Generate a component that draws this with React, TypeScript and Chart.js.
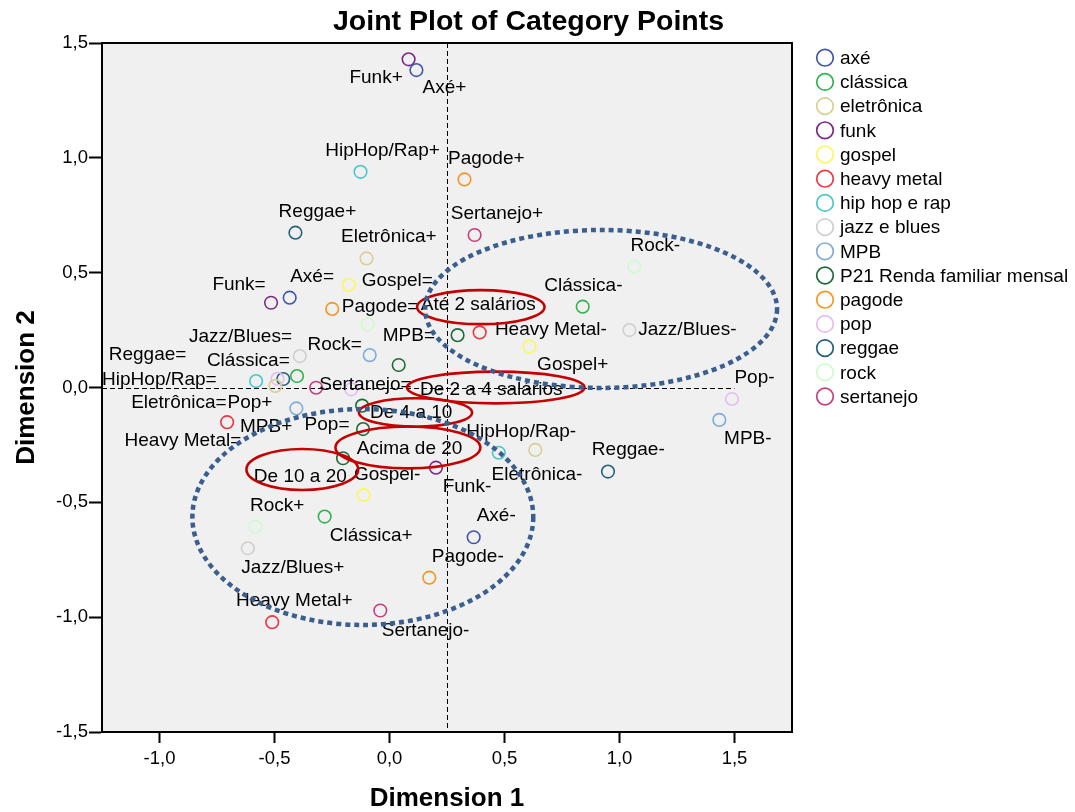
import React, { useEffect, useRef } from 'react';
import { Chart, registerables } from 'chart.js';

Chart.register(...registerables);

const FONT = '"Liberation Sans", Arial, Helvetica, sans-serif';

// ---- Axis setup ----
const xMin = -1.25;
const xMax = 1.75;
const yMin = -1.5;
const yMax = 1.5;
const xTicks = [-1.0, -0.5, 0.0, 0.5, 1.0, 1.5];
const yTicks = [-1.5, -1.0, -0.5, 0.0, 0.5, 1.0, 1.5];

// ---- Series (legend order) ----
const seriesNames = [
  'axé', 'clássica', 'eletrônica', 'funk', 'gospel', 'heavy metal', 'hip hop e rap',
  'jazz e blues', 'MPB', 'P21 Renda familiar mensal', 'pagode', 'pop', 'reggae', 'rock', 'sertanejo',
];
const seriesColors = [
  '#3f55ad', '#2eb34d', '#d8cf93', '#7b2b85', '#fbf75c', '#e9383f', '#46c8cb',
  '#cfcfcf', '#7eaddd', '#1d6a3a', '#f7951f', '#e4bdf2', '#22607c', '#ccfcce', '#c43f7b',
];

// ---- Category point coordinates (Dimension 1 / Dimension 2) ----
const axeX = [0.117, -0.434, 0.366];
const axeY = [1.382, 0.391, -0.652];
const axeText = ['Axé+', 'Axé=', 'Axé-'];

const classicaX = [0.840, -0.402, -0.282];
const classicaY = [0.352, 0.050, -0.562];
const classicaText = ['Clássica-', 'Clássica=', 'Clássica+'];

const eletronicaX = [-0.100, -0.496, 0.634];
const eletronicaY = [0.562, 0.007, -0.272];
const eletronicaText = ['Eletrônica+', 'Eletrônica=', 'Eletrônica-'];

const funkX = [0.083, -0.515, 0.202];
const funkY = [1.429, 0.369, -0.349];
const funkText = ['Funk+', 'Funk=', 'Funk-'];

const gospelX = [-0.177, 0.609, -0.112];
const gospelY = [0.446, 0.178, -0.468];
const gospelText = ['Gospel=', 'Gospel+', 'Gospel-'];

const metalX = [0.392, -0.706, -0.510];
const metalY = [0.240, -0.151, -1.022];
const metalText = ['Heavy Metal-', 'Heavy Metal=', 'Heavy Metal+'];

const hiphopX = [-0.126, -0.580, 0.475];
const hiphopY = [0.939, 0.028, -0.284];
const hiphopText = ['HipHop/Rap+', 'HipHop/Rap=', 'HipHop/Rap-'];

const jazzX = [-0.390, 1.043, -0.616];
const jazzY = [0.137, 0.250, -0.700];
const jazzText = ['Jazz/Blues=', 'Jazz/Blues-', 'Jazz/Blues+'];

const mpbX = [-0.086, -0.405, 1.434];
const mpbY = [0.141, -0.091, -0.141];
const mpbText = ['MPB=', 'MPB+', 'MPB-'];

const rendaX = [0.296, 0.040, -0.119, -0.202, -0.115];
const rendaY = [0.228, 0.098, -0.079, -0.308, -0.181];
const rendaText = ['Até 2 salários', 'De 2 a 4 salários', 'De 4 a 10', 'De 10 a 20', 'Acima de 20'];

const pagodeX = [0.326, -0.249, 0.173];
const pagodeY = [0.906, 0.342, -0.828];
const pagodeText = ['Pagode+', 'Pagode=', 'Pagode-'];

const popX = [-0.487, -0.166, 1.489];
const popY = [0.038, -0.008, -0.050];
const popText = ['Pop+', 'Pop=', 'Pop-'];

const reggaeX = [-0.409, -0.462, 0.950];
const reggaeY = [0.674, 0.037, -0.366];
const reggaeText = ['Reggae+', 'Reggae=', 'Reggae-'];

const rockX = [-0.095, 1.064, -0.583];
const rockY = [0.275, 0.526, -0.606];
const rockText = ['Rock=', 'Rock-', 'Rock+'];

const sertanejoX = [0.370, -0.319, -0.040];
const sertanejoY = [0.664, -0.001, -0.971];
const sertanejoText = ['Sertanejo+', 'Sertanejo=', 'Sertanejo-'];

const seriesX = [axeX, classicaX, eletronicaX, funkX, gospelX, metalX, hiphopX, jazzX, mpbX, rendaX, pagodeX, popX, reggaeX, rockX, sertanejoX];
const seriesY = [axeY, classicaY, eletronicaY, funkY, gospelY, metalY, hiphopY, jazzY, mpbY, rendaY, pagodeY, popY, reggaeY, rockY, sertanejoY];
const seriesText = [axeText, classicaText, eletronicaText, funkText, gospelText, metalText, hiphopText, jazzText, mpbText, rendaText, pagodeText, popText, reggaeText, rockText, sertanejoText];

// ---- Label placement (pixel offset of text centre from its point) ----
const labelOffsets = [
  [[28, 18], [22.4, -21], [22.5, -21.3]],
  [[0.7, -20.7], [-48.7, -15], [46.5, 19.3]],
  [[22.3, -21.3], [-96.5, 17.3], [1.7, 25]],
  [[-32.5, 18.5], [-32, -17.7], [31, 19]],
  [[48.5, -4], [43.2, 18.3], [23.4, -20]],
  [[71.2, -2.3], [-44.2, 18.4], [22.1, -21.6]],
  [[22, -20.7], [-96.7, -1], [22.5, -21]],
  [[-59.3, -19.3], [58, 0], [45, 19]],
  [[39.2, -19.7], [-30.2, 18.4], [28.5, 19]],
  [[20.7, -30], [92.5, 25], [49.1, 7.6], [-42.7, 18.4], [46.5, 19.3]],
  [[21.8, -21], [47.8, -2], [38.5, -20.4]],
  [[-27.5, 24.3], [-24.3, 35.7], [22.5, -21.3]],
  [[22, -20.7], [-135.7, -24], [20.3, -21.7]],
  [[-33, 20], [21, -20.7], [21.7, -20.7]],
  [[22.4, -21.7], [49.3, -3.4], [45.3, 20]],
];

// ---- Highlight ellipses (data units) ----
const redCx = [0.397, 0.462, 0.113, 0.080, -0.379];
const redCy = [0.350, 0.000, -0.109, -0.261, -0.357];
const redRx = [0.277, 0.386, 0.246, 0.315, 0.243];
const redRy = [0.074, 0.069, 0.062, 0.091, 0.089];

const blueCx = [0.920, -0.116];
const blueCy = [0.342, -0.564];
const blueRx = [0.765, 0.741];
const blueRy = [0.344, 0.470];

// reference lines
const refX = 0.25;
const refY = 0.0;
const refYLineEnd = 1.5;

const fmt = (v: number) => v.toFixed(1).replace('.', ',');

const decorPlugin = {
  id: 'decor',
  beforeDraw(chart: any) {
    const { ctx, chartArea: a } = chart;
    ctx.save();
    ctx.fillStyle = '#f0f0f0';
    ctx.fillRect(a.left, a.top, a.right - a.left, a.bottom - a.top);
    ctx.restore();
  },
  beforeDatasetsDraw(chart: any) {
    const { ctx, chartArea: a, scales } = chart;
    const xs = scales.x;
    const ys = scales.y;
    ctx.save();
    ctx.strokeStyle = '#000';
    ctx.lineWidth = 1;
    ctx.setLineDash([5, 3]);
    const px = Math.round(xs.getPixelForValue(refX)) + 0.5;
    ctx.beginPath();
    ctx.moveTo(px, a.top);
    ctx.lineTo(px, a.bottom);
    ctx.stroke();
    const py = Math.round(ys.getPixelForValue(refY)) + 0.5;
    ctx.beginPath();
    ctx.moveTo(a.left, py);
    ctx.lineTo(xs.getPixelForValue(refYLineEnd), py);
    ctx.stroke();
    ctx.restore();
  },
  afterDatasetsDraw(chart: any) {
    const { ctx, chartArea: a, scales } = chart;
    const xs = scales.x;
    const ys = scales.y;
    ctx.save();
    // point labels
    ctx.fillStyle = '#000';
    ctx.font = `19px ${FONT}`;
    ctx.textAlign = 'center';
    ctx.textBaseline = 'middle';
    chart.data.datasets.forEach((_ds: any, i: number) => {
      const meta = chart.getDatasetMeta(i);
      meta.data.forEach((el: any, j: number) => {
        const off = labelOffsets[i][j];
        ctx.fillText(seriesText[i][j], el.x + off[0], el.y + off[1]);
      });
    });
    // red ellipses
    ctx.strokeStyle = '#c40000';
    ctx.lineWidth = 2.6;
    ctx.setLineDash([]);
    for (let k = 0; k < redCx.length; k++) {
      const cx = xs.getPixelForValue(redCx[k]);
      const cy = ys.getPixelForValue(redCy[k]);
      const rx = Math.abs(xs.getPixelForValue(redCx[k] + redRx[k]) - cx);
      const ry = Math.abs(ys.getPixelForValue(redCy[k] + redRy[k]) - cy);
      ctx.beginPath();
      ctx.ellipse(cx, cy, rx, ry, 0, 0, Math.PI * 2);
      ctx.stroke();
    }
    // blue dotted ellipses
    ctx.strokeStyle = '#3a5e8d';
    ctx.lineWidth = 4.5;
    ctx.setLineDash([5, 4]);
    for (let k = 0; k < blueCx.length; k++) {
      const cx = xs.getPixelForValue(blueCx[k]);
      const cy = ys.getPixelForValue(blueCy[k]);
      const rx = Math.abs(xs.getPixelForValue(blueCx[k] + blueRx[k]) - cx);
      const ry = Math.abs(ys.getPixelForValue(blueCy[k] + blueRy[k]) - cy);
      ctx.beginPath();
      ctx.ellipse(cx, cy, rx, ry, 0, 0, Math.PI * 2);
      ctx.stroke();
    }
    // frame
    ctx.setLineDash([]);
    ctx.strokeStyle = '#000';
    ctx.lineWidth = 2;
    ctx.strokeRect(a.left, a.top, a.right - a.left, a.bottom - a.top);
    ctx.restore();
  },
  afterDraw(chart: any) {
    const { ctx } = chart;
    ctx.save();
    // title
    ctx.fillStyle = '#000';
    ctx.font = `bold 28.5px ${FONT}`;
    ctx.textAlign = 'center';
    ctx.textBaseline = 'middle';
    ctx.fillText('Joint Plot of Category Points', 528.5, 22);
    // legend
    ctx.font = `19px ${FONT}`;
    ctx.textAlign = 'left';
    chart.data.datasets.forEach((ds: any, i: number) => {
      const y = 57.7 + i * 24.2;
      ctx.beginPath();
      ctx.arc(825, y, 8.3, 0, Math.PI * 2);
      ctx.strokeStyle = ds.borderColor;
      ctx.lineWidth = 1.7;
      ctx.stroke();
      ctx.fillStyle = '#000';
      ctx.fillText(ds.label, 840, y + 1);
    });
    ctx.restore();
  },
};

export default function App() {
  const canvasRef = useRef<HTMLCanvasElement | null>(null);

  useEffect(() => {
    if (!canvasRef.current) return;
    Chart.defaults.font.family = FONT;
    Chart.defaults.color = '#000';
    const datasets = seriesNames.map((name, i) => ({
      label: name,
      data: seriesX[i].map((x, j) => ({ x, y: seriesY[i][j] })),
      borderColor: seriesColors[i],
      backgroundColor: 'rgba(0,0,0,0)',
      pointRadius: 6.3,
      pointHoverRadius: 6.3,
      pointBorderWidth: 1.6,
      showLine: false,
    }));
    const chart = new Chart(canvasRef.current, {
      type: 'scatter',
      data: { datasets },
      options: {
        responsive: false,
        animation: false,
        events: [],
        layout: { padding: { top: 43, right: 283, left: 0, bottom: 0 } },
        plugins: {
          legend: { display: false },
          tooltip: { enabled: false },
          title: { display: false },
        },
        scales: {
          x: {
            type: 'linear',
            position: 'bottom',
            min: xMin,
            max: xMax,
            afterBuildTicks: (s: any) => { s.ticks = xTicks.map((v) => ({ value: v })); },
            afterFit: (s: any) => { s.height = 80; },
            grid: { display: true, drawOnChartArea: false, drawTicks: true, tickLength: 11, tickWidth: 2, tickColor: '#000' },
            border: { display: true, color: '#000', width: 2 },
            ticks: {
              color: '#000',
              font: { family: FONT, size: 18.5 },
              padding: 5,
              maxRotation: 0,
              autoSkip: false,
              callback: (v: any) => fmt(Number(v)),
            },
            title: {
              display: true,
              text: 'Dimension 1',
              color: '#000',
              font: { family: FONT, size: 26, weight: 'bold', lineHeight: 1 },
              padding: { top: 0, bottom: 0 },
            },
          },
          y: {
            type: 'linear',
            position: 'left',
            min: yMin,
            max: yMax,
            afterBuildTicks: (s: any) => { s.ticks = yTicks.map((v) => ({ value: v })); },
            afterFit: (s: any) => { s.width = 102; },
            grid: { display: true, drawOnChartArea: false, drawTicks: true, tickLength: 13, tickWidth: 2, tickColor: '#000' },
            border: { display: true, color: '#000', width: 2 },
            ticks: {
              color: '#000',
              font: { family: FONT, size: 18.5 },
              padding: 1,
              autoSkip: false,
              callback: (v: any) => fmt(Number(v)),
            },
            title: {
              display: true,
              text: 'Dimension 2',
              color: '#000',
              font: { family: FONT, size: 26, weight: 'bold', lineHeight: 1 },
              padding: { top: 13.5, bottom: 0 },
            },
          },
        },
      } as any,
      plugins: [decorPlugin],
    });
    return () => chart.destroy();
  }, []);

  return (
    <div style={{ position: 'absolute', left: 0, top: 0, width: 1075, height: 812 }}>
      <canvas ref={canvasRef} width={1075} height={812} style={{ display: 'block' }} />
    </div>
  );
}
